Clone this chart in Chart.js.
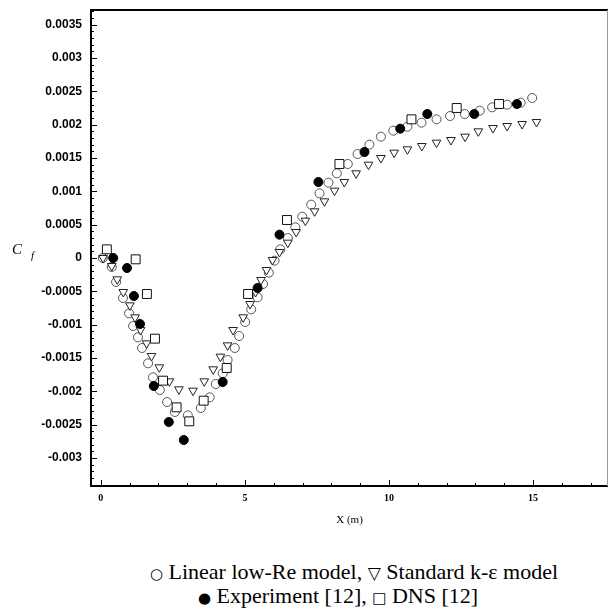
<!DOCTYPE html>
<html>
<head>
<meta charset="utf-8">
<script src="https://cdn.jsdelivr.net/npm/chart.js@4/dist/chart.umd.min.js"></script>
<style>
    html, body { margin: 0; padding: 0; background: #fff; }
    #wrap { position: relative; width: 609px; height: 610px; overflow: hidden; }
    #cf { position: absolute; left: 0; top: 0; }
    .caption {
        position: absolute;
        font-family: "Liberation Serif", "Times New Roman", serif;
        font-size: 22px;
        line-height: 24px;
        color: #000;
        white-space: nowrap;
        transform: translateX(-50%);
    }
    .sym { font-family: "DejaVu Sans", sans-serif; font-size: 15px; }
    .tri { font-family: "DejaVu Sans", sans-serif; font-size: 17px; font-weight: bold; }
</style>
</head>
<body>
<div id="wrap">
    <canvas id="cf" width="609" height="540"></canvas>
    <div class="caption" id="cap1" style="left:354px; top:560px;"><span class="sym">○</span> Linear low-Re model, <span class="tri">▽</span> Standard k-ε model</div>
    <div class="caption" id="cap2" style="left:338px; top:584px;"><span class="sym">●</span> Experiment [12], <span class="sym">□</span> DNS [12]</div>
</div>
<script>
// Cf wzdłuż ściany

// Linear low-Re model (kółka puste)
const lowReX = [0.07, 0.38, 0.53, 0.77, 0.98, 1.12, 1.29, 1.43, 1.64, 1.81, 2.05, 2.30, 2.57, 3.02, 3.47,
    3.78, 3.99, 4.23, 4.40, 4.65, 4.80, 5.01, 5.22, 5.44, 5.63, 5.83, 6.03, 6.23, 6.49, 6.75, 6.99,
    7.30, 7.59, 7.90, 8.19, 8.57, 8.91, 9.32, 9.72, 10.15, 10.64, 11.13, 11.65, 12.12, 12.63, 13.15,
    13.58, 14.10, 14.57, 14.97];
const lowReY = [0, -0.000135, -0.00036, -0.0006, -0.00083, -0.00102, -0.00119, -0.00135, -0.00158, -0.00179,
    -0.00198, -0.00216, -0.00231, -0.00236, -0.00225, -0.00209, -0.00189, -0.00173, -0.00153, -0.00135,
    -0.00117, -0.00096, -0.00077, -0.00059, -0.00039, -0.00022, -0.00004, 0.00013, 0.0003, 0.00046,
    0.00062, 0.0008, 0.00097, 0.00113, 0.00127, 0.00141, 0.00156, 0.0017, 0.00182, 0.00191, 0.00197,
    0.00203, 0.00208, 0.00213, 0.00216, 0.00221, 0.00226, 0.0023, 0.00233, 0.0024];

// Standard k-eps model (trójkąty)
const keX = [0.08, 0.38, 0.57, 0.78, 1.01, 1.19, 1.38, 1.59, 1.76, 2.03, 2.38, 2.71, 3.20, 3.59, 3.90,
    4.15, 4.40, 4.59, 4.94, 5.18, 5.37, 5.56, 5.75, 5.96, 6.20, 6.49, 6.78, 7.10, 7.42, 7.76, 8.11,
    8.45, 8.86, 9.29, 9.72, 10.18, 10.64, 11.14, 11.65, 12.15, 12.64, 13.10, 13.61, 14.10, 14.62, 15.12];
const keY = [0, -0.00012, -0.00032, -0.00051, -0.00071, -0.00089, -0.00108, -0.00128, -0.00147, -0.00164,
    -0.00185, -0.00197, -0.00199, -0.00185, -0.00167, -0.00148, -0.00131, -0.00108, -0.00089, -0.00069,
    -0.00051, -0.00033, -0.00018, -0.00003, 0.00009, 0.00023, 0.00039, 0.00056, 0.0007, 0.00085,
    0.00101, 0.00114, 0.00127, 0.0014, 0.0015, 0.00158, 0.00163, 0.00168, 0.00173, 0.00177, 0.00182,
    0.0019, 0.00195, 0.00198, 0.00201, 0.00204];

// Experiment [12]
const expX = [0.43, 0.91, 1.15, 1.36, 1.84, 2.36, 2.88, 4.23, 5.44, 6.20, 7.55, 9.15, 10.39, 11.33, 12.96, 14.44];
const expY = [0, -0.00015, -0.00057, -0.00099, -0.00192, -0.00246, -0.00273, -0.00186, -0.00045, 0.00035,
    0.00114, 0.00159, 0.00194, 0.00216, 0.00216, 0.00231];

// DNS [12]
const dnsX = [0.21, 1.21, 1.60, 1.88, 2.16, 2.63, 3.07, 3.57, 4.37, 5.11, 6.46, 8.28, 10.78, 12.35, 13.82];
const dnsY = [0.00013, -0.00002, -0.00054, -0.00121, -0.00184, -0.00224, -0.00245, -0.00214, -0.00165,
    -0.00054, 0.00057, 0.00141, 0.00208, 0.00225, 0.00231];

const xTickValues = [0, 5, 10, 15];
const yTickValues = [-0.003, -0.0025, -0.002, -0.0015, -0.001, -0.0005, 0, 0.0005, 0.001, 0.0015, 0.002, 0.0025, 0.003, 0.0035];

/**
 * Składa tablice x/y w punkty dla Chart.js.
 */
function toPoints(xs, ys) {
    return xs.map((x, i) => ({ x: x, y: ys[i] }));
}

/**
 * Ramka wykresu, znaczniki do środka i etykieta C_f.
 */
const framePlugin = {
    id: 'frame',
    afterDraw(chart) {
        const { ctx, chartArea: a, scales } = chart;
        const xs = scales.x, ys = scales.y;
        ctx.save();

        // znaczniki osi x (co 1, główne co 5)
        ctx.strokeStyle = '#000';
        ctx.lineWidth = 1;
        ctx.beginPath();
        for (let v = 0; v <= 17; v++) {
            const px = Math.round(xs.getPixelForValue(v)) + 0.5;
            const len = v % 5 === 0 ? 6 : 3;
            ctx.moveTo(px, a.bottom);
            ctx.lineTo(px, a.bottom - len);
        }
        // znaczniki osi y (co 0.0001, główne co 0.0005)
        for (let k = -34; k <= 37; k++) {
            const py = Math.round(ys.getPixelForValue(k * 0.0001)) + 0.5;
            const len = k % 5 === 0 ? 6 : 3;
            ctx.moveTo(a.left, py);
            ctx.lineTo(a.left + len, py);
        }
        ctx.stroke();

        // ramka
        ctx.lineWidth = 2;
        ctx.beginPath();
        ctx.moveTo(a.right, a.top);
        ctx.lineTo(a.left, a.top);
        ctx.lineTo(a.left, a.bottom);
        ctx.lineTo(a.right, a.bottom);
        ctx.stroke();
        ctx.strokeStyle = '#999';
        ctx.lineWidth = 1;
        ctx.beginPath();
        ctx.moveTo(a.right - 0.5, a.top);
        ctx.lineTo(a.right - 0.5, a.bottom);
        ctx.stroke();

        // etykieta osi y
        ctx.fillStyle = '#000';
        ctx.font = 'italic 15px "Liberation Serif"';
        ctx.fillText('C', 12, 254);
        ctx.font = 'italic 11px "Liberation Serif"';
        ctx.fillText('f', 31, 259);
        ctx.restore();
    }
};

const ctx = document.getElementById('cf').getContext('2d');

new Chart(ctx, {
    type: 'scatter',
    data: {
        datasets: [
            {
                label: 'Experiment [12]',
                data: toPoints(expX, expY),
                pointStyle: 'circle',
                pointRadius: 4.5,
                backgroundColor: '#000',
                borderColor: '#000',
                borderWidth: 1
            },
            {
                label: 'DNS [12]',
                data: toPoints(dnsX, dnsY),
                pointStyle: 'rect',
                pointRadius: 6.3,
                backgroundColor: '#fff',
                borderColor: '#111',
                borderWidth: 1
            },
            {
                label: 'Standard k-ε model',
                data: toPoints(keX, keY),
                pointStyle: 'triangle',
                rotation: 180,
                pointRadius: 5,
                backgroundColor: '#fff',
                borderColor: '#222',
                borderWidth: 1
            },
            {
                label: 'Linear low-Re model',
                data: toPoints(lowReX, lowReY),
                pointStyle: 'circle',
                pointRadius: 4.5,
                backgroundColor: '#fff',
                borderColor: '#555',
                borderWidth: 1
            }
        ]
    },
    options: {
        responsive: false,
        animation: false,
        layout: { autoPadding: false, padding: { top: 10, right: 1, left: 0, bottom: 0 } },
        plugins: {
            legend: { display: false },
            tooltip: { enabled: false }
        },
        scales: {
            x: {
                type: 'linear',
                min: -0.34,
                max: 17.6,
                afterFit: s => { s.height = 54; s.paddingLeft = 0; s.paddingRight = 0; },
                afterBuildTicks: s => { s.ticks = xTickValues.map(v => ({ value: v })); },
                grid: { drawOnChartArea: false, drawTicks: false },
                border: { display: false },
                ticks: {
                    padding: 6,
                    color: '#000',
                    font: { family: '"Liberation Serif"', size: 10, weight: 'bold' },
                    maxRotation: 0
                },
                title: {
                    display: true,
                    text: 'X (m)',
                    color: '#000',
                    font: { family: '"Liberation Serif"', size: 11 },
                    padding: { top: 0, bottom: 13 }
                }
            },
            y: {
                type: 'linear',
                min: -0.00342,
                max: 0.00372,
                afterFit: s => { s.width = 91; s.paddingTop = 0; s.paddingBottom = 0; },
                afterBuildTicks: s => { s.ticks = yTickValues.map(v => ({ value: v })); },
                grid: { drawOnChartArea: false, drawTicks: false },
                border: { display: false },
                ticks: {
                    padding: 9,
                    color: '#000',
                    font: { family: '"Liberation Sans"', size: 12, weight: 'bold' },
                    callback: v => String(Number(v.toFixed(4)))
                }
            }
        }
    },
    plugins: [framePlugin]
});
</script>
</body>
</html>
